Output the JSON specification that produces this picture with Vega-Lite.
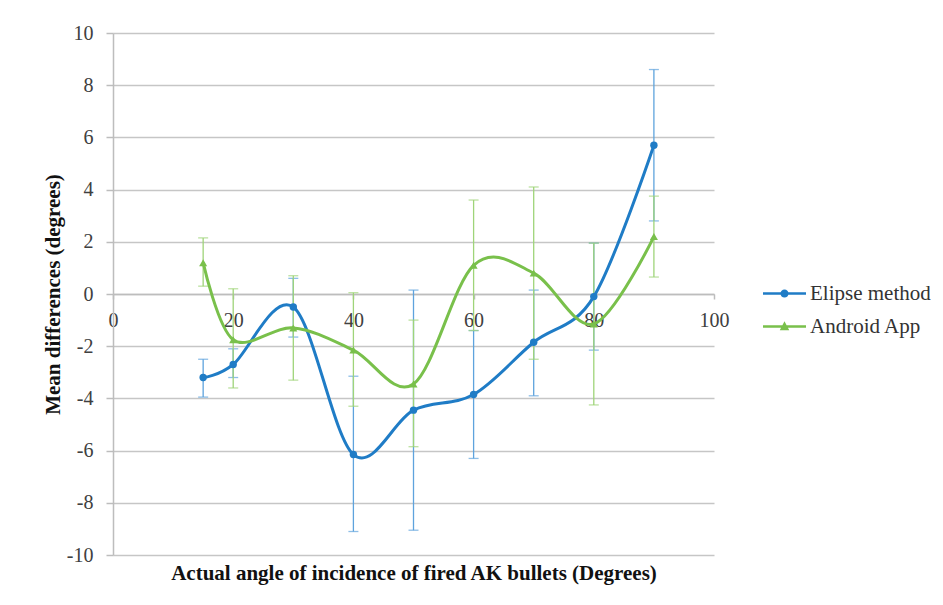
{
  "$schema": "https://vega.github.io/schema/vega-lite/v6.json",
  "width": 601,
  "height": 522,
  "autosize": {"type": "none"},
  "padding": {"left": 113, "top": 33, "right": 229, "bottom": 50},
  "background": "white",
  "config": {
    "font": "Liberation Serif",
    "view": {"stroke": null}
  },
  "datasets": {
    "pts": [
      {"series": "Elipse method", "angle": 15, "mean": -3.2, "lo": -3.95, "hi": -2.5},
      {"series": "Elipse method", "angle": 20, "mean": -2.7, "lo": -3.2, "hi": -2.1},
      {"series": "Elipse method", "angle": 30, "mean": -0.5, "lo": -1.65, "hi": 0.6},
      {"series": "Elipse method", "angle": 40, "mean": -6.15, "lo": -9.1, "hi": -3.15},
      {"series": "Elipse method", "angle": 50, "mean": -4.45, "lo": -9.05, "hi": 0.15},
      {"series": "Elipse method", "angle": 60, "mean": -3.85, "lo": -6.3, "hi": -1.4},
      {"series": "Elipse method", "angle": 70, "mean": -1.85, "lo": -3.9, "hi": 0.15},
      {"series": "Elipse method", "angle": 80, "mean": -0.1, "lo": -2.15, "hi": 1.95},
      {"series": "Elipse method", "angle": 90, "mean": 5.7, "lo": 2.8, "hi": 8.6},
      {"series": "Android App", "angle": 15, "mean": 1.2, "lo": 0.3, "hi": 2.15},
      {"series": "Android App", "angle": 20, "mean": -1.75, "lo": -3.6, "hi": 0.2},
      {"series": "Android App", "angle": 30, "mean": -1.3, "lo": -3.3, "hi": 0.7},
      {"series": "Android App", "angle": 40, "mean": -2.15, "lo": -4.3, "hi": 0.05},
      {"series": "Android App", "angle": 50, "mean": -3.45, "lo": -5.85, "hi": -1.0},
      {"series": "Android App", "angle": 60, "mean": 1.1, "lo": -1.4, "hi": 3.6},
      {"series": "Android App", "angle": 70, "mean": 0.8, "lo": -2.5, "hi": 4.1},
      {"series": "Android App", "angle": 80, "mean": -1.15, "lo": -4.25, "hi": 1.95},
      {"series": "Android App", "angle": 90, "mean": 2.2, "lo": 0.65, "hi": 3.75}
    ],
    "legendrows": [
      {"series": "Elipse method"},
      {"series": "Android App"}
    ]
  },
  "data": {"name": "pts"},
  "encoding": {
    "x": {
      "field": "angle",
      "type": "quantitative",
      "scale": {"domain": [0, 100], "nice": false, "zero": false},
      "axis": {
        "values": [0, 20, 40, 60, 80, 100],
        "labelExpr": "'' + datum.value",
        "title": "Actual angle of incidence of fired AK bullets (Degrees)",
        "offset": -261,
        "grid": false,
        "domainColor": "#bdbdbd",
        "domainWidth": 1.5,
        "tickColor": "#bdbdbd",
        "tickWidth": 1.5,
        "tickSize": 5,
        "labelPadding": 11,
        "labelFlush": false,
        "labelFont": "Liberation Serif",
        "labelFontSize": 20,
        "labelColor": "#404040",
        "titleFont": "Liberation Serif",
        "titleFontSize": 21,
        "titleFontWeight": "bold",
        "titleColor": "#111111",
        "titleBaseline": "middle",
        "titleY": 279
      }
    }
  },
  "layer": [
    {
      "transform": [{"filter": "datum.series === 'Elipse method'"}],
      "mark": {"type": "rule", "color": "#5ea3dd", "strokeWidth": 1.3},
      "encoding": {
        "y": {"field": "lo", "type": "quantitative"},
        "y2": {"field": "hi"}
      }
    },
    {
      "transform": [{"filter": "datum.series === 'Elipse method'"}],
      "mark": {"type": "tick", "orient": "horizontal", "size": 10, "thickness": 1.3, "color": "#5ea3dd"},
      "encoding": {"y": {"field": "lo", "type": "quantitative"}}
    },
    {
      "transform": [{"filter": "datum.series === 'Elipse method'"}],
      "mark": {"type": "tick", "orient": "horizontal", "size": 10, "thickness": 1.3, "color": "#5ea3dd"},
      "encoding": {"y": {"field": "hi", "type": "quantitative"}}
    },
    {
      "transform": [{"filter": "datum.series === 'Android App'"}],
      "mark": {"type": "rule", "color": "#9fd479", "strokeWidth": 1.3},
      "encoding": {
        "y": {"field": "lo", "type": "quantitative"},
        "y2": {"field": "hi"}
      }
    },
    {
      "transform": [{"filter": "datum.series === 'Android App'"}],
      "mark": {"type": "tick", "orient": "horizontal", "size": 10, "thickness": 1.3, "color": "#9fd479"},
      "encoding": {"y": {"field": "lo", "type": "quantitative"}}
    },
    {
      "transform": [{"filter": "datum.series === 'Android App'"}],
      "mark": {"type": "tick", "orient": "horizontal", "size": 10, "thickness": 1.3, "color": "#9fd479"},
      "encoding": {"y": {"field": "hi", "type": "quantitative"}}
    },
    {
      "transform": [{"filter": "datum.series === 'Elipse method'"}],
      "mark": {"type": "line", "color": "#1f7cc6", "strokeWidth": 3, "interpolate": "cardinal", "tension": 0},
      "encoding": {
        "y": {
          "field": "mean",
          "type": "quantitative",
          "scale": {"domain": [-10, 10], "nice": false, "zero": false},
          "axis": {
            "values": [-10, -8, -6, -4, -2, 0, 2, 4, 6, 8, 10],
            "labelExpr": "'' + datum.value",
            "title": "Mean differences (degrees)",
            "grid": true,
            "gridColor": "#c6c6c6",
            "gridWidth": 1.5,
            "domainColor": "#bdbdbd",
            "domainWidth": 1.5,
            "tickColor": "#bdbdbd",
            "tickWidth": 1.5,
            "tickSize": 7,
            "labelPadding": 13,
            "labelFont": "Liberation Serif",
            "labelFontSize": 20,
            "labelColor": "#404040",
            "titleFont": "Liberation Serif",
            "titleFontSize": 21,
            "titleFontWeight": "bold",
            "titleColor": "#111111",
            "titlePadding": 3
          }
        }
      }
    },
    {
      "transform": [{"filter": "datum.series === 'Android App'"}],
      "mark": {"type": "line", "color": "#79c04b", "strokeWidth": 3, "interpolate": "cardinal", "tension": 0},
      "encoding": {"y": {"field": "mean", "type": "quantitative"}}
    },
    {
      "transform": [{"filter": "datum.series === 'Elipse method'"}],
      "mark": {"type": "point", "shape": "circle", "filled": true, "opacity": 1, "size": 55, "color": "#1f7cc6"},
      "encoding": {"y": {"field": "mean", "type": "quantitative"}}
    },
    {
      "transform": [{"filter": "datum.series === 'Android App'"}],
      "mark": {"type": "point", "shape": "triangle-up", "filled": true, "opacity": 1, "size": 65, "color": "#79c04b"},
      "encoding": {"y": {"field": "mean", "type": "quantitative"}}
    },
    {
      "data": {"name": "legendrows"},
      "mark": {"type": "point", "filled": true, "opacity": 1, "size": 1850},
      "encoding": {
        "y": {"field": "mean", "type": "quantitative"},
        "color": {
          "field": "series",
          "type": "nominal",
          "scale": {"domain": ["Elipse method", "Android App"], "range": ["#1f7cc6", "#79c04b"]},
          "legend": {
            "orient": "none",
            "legendX": 649,
            "legendY": 238,
            "title": null,
            "padding": 0,
            "symbolSize": 1850,
            "symbolOpacity": 1,
            "rowPadding": -10,
            "labelFont": "Liberation Serif",
            "labelFontSize": 21,
            "labelColor": "#333333",
            "labelOffset": 3,
            "labelLimit": 300
          }
        },
        "shape": {
          "field": "series",
          "type": "nominal",
          "scale": {
            "domain": ["Elipse method", "Android App"],
            "range": [
              "M-1,-0.06H1V0.06H-1Z M0.19,0 A0.19,0.19 0 1 1 -0.19,0 A0.19,0.19 0 1 1 0.19,0 Z",
              "M-1,-0.06H1V0.06H-1Z M0,-0.24 L0.22,0.17 L-0.22,0.17 Z"
            ]
          }
        }
      }
    }
  ]
}
